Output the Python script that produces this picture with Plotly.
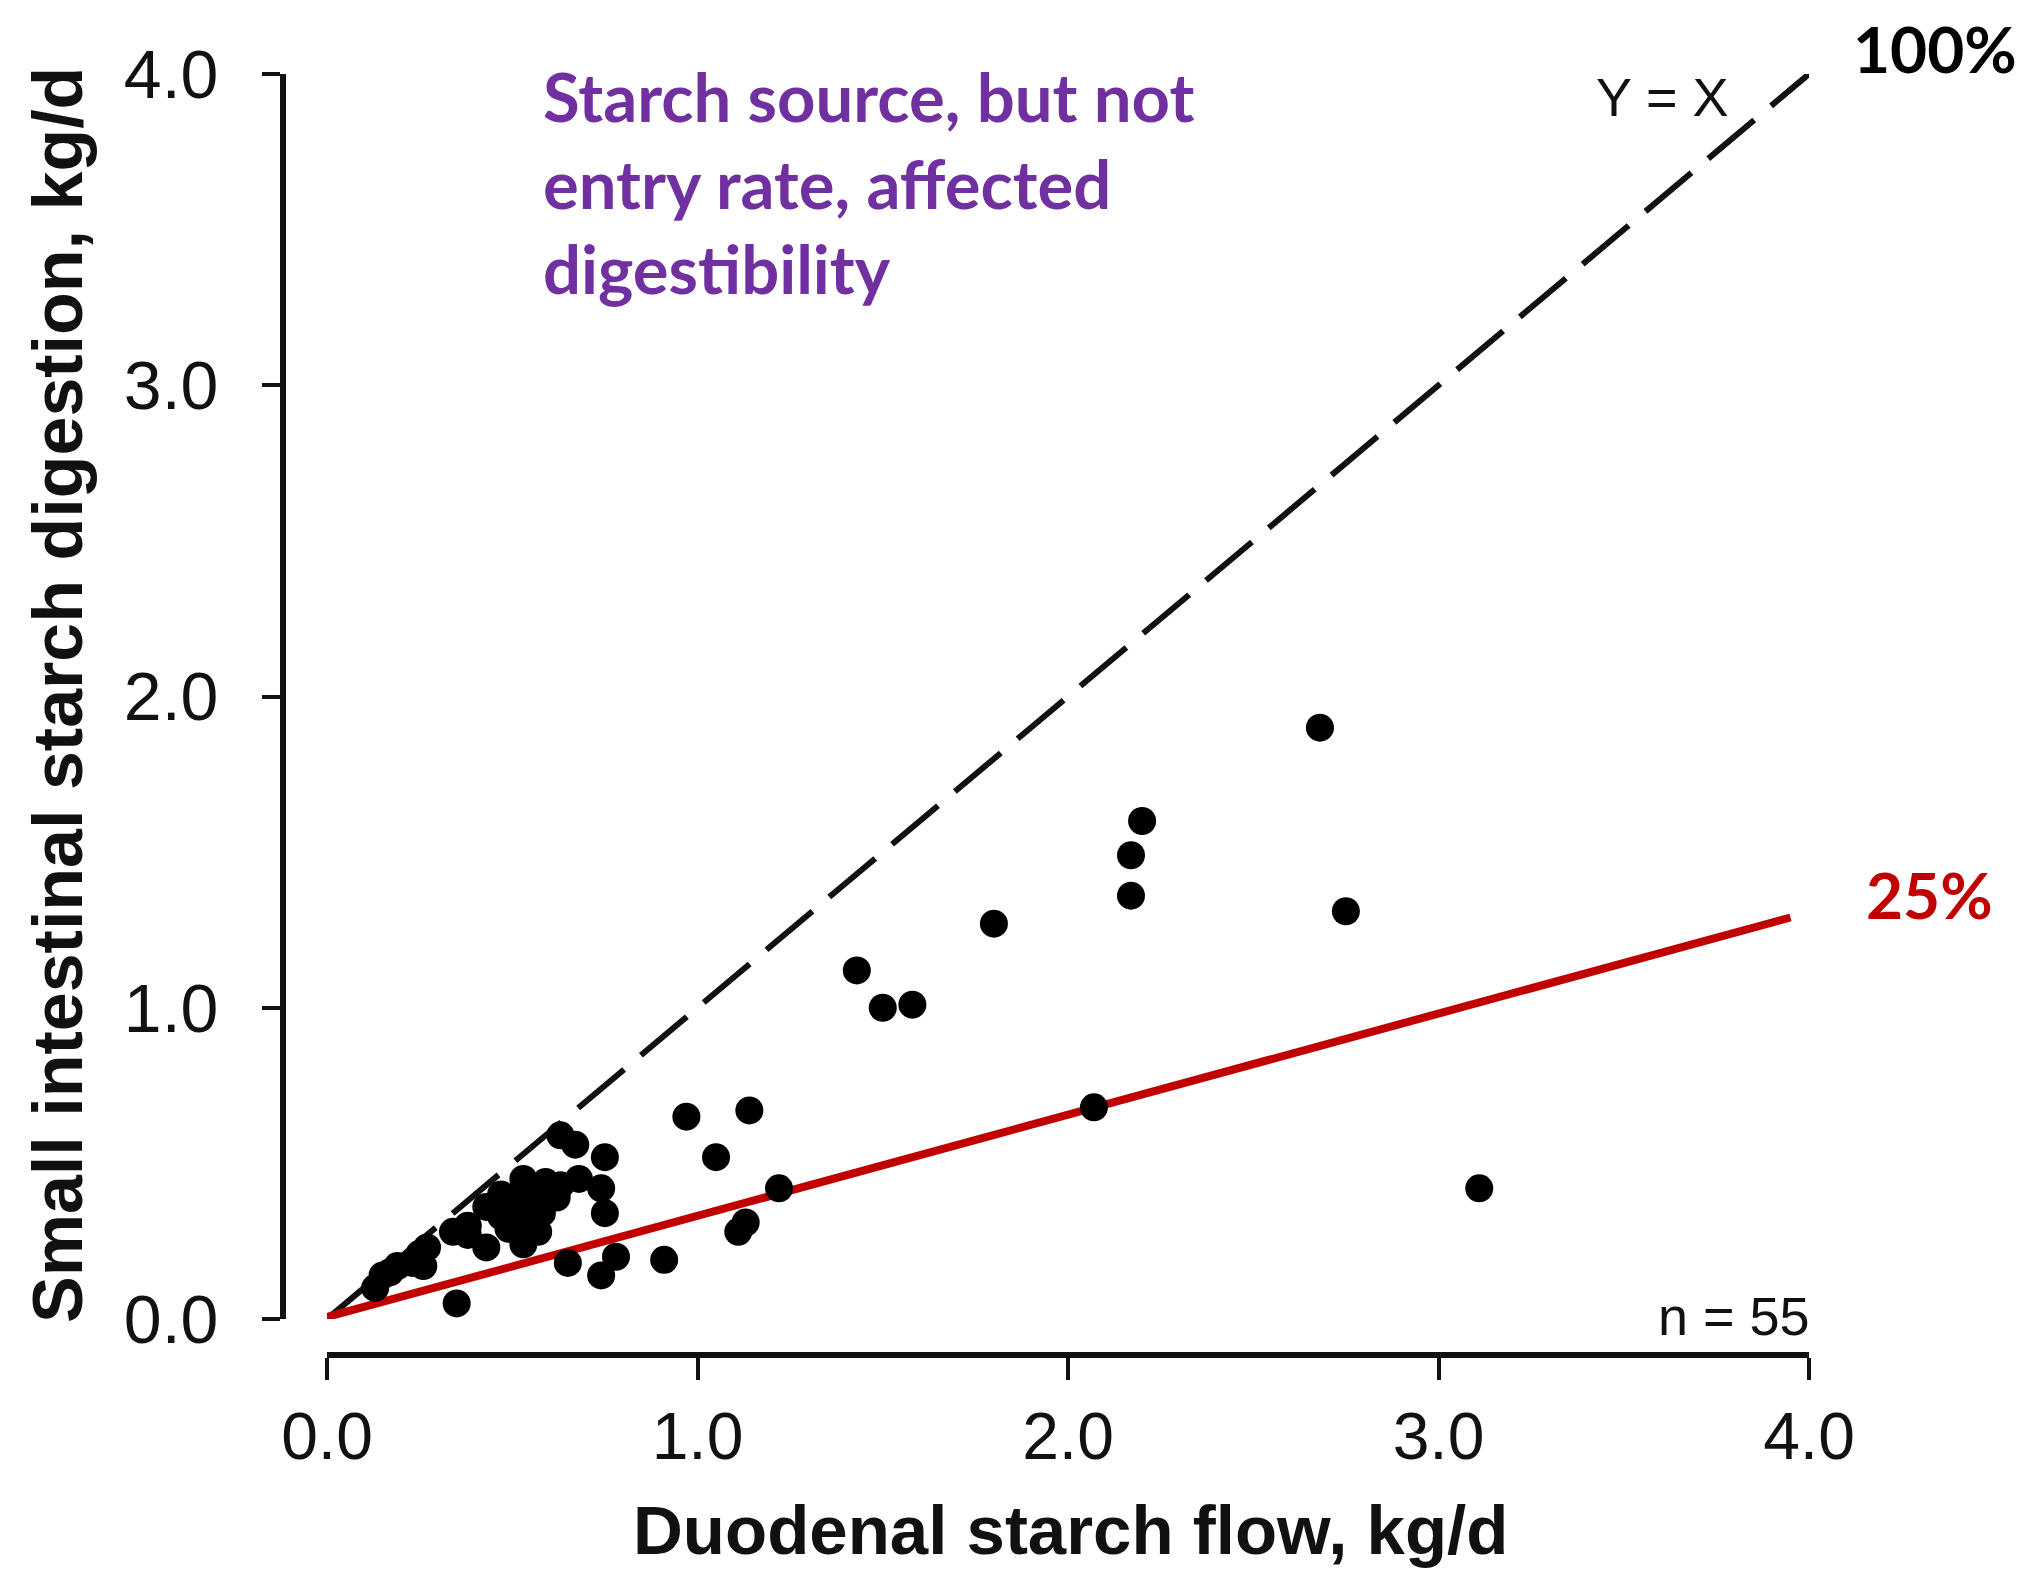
import plotly.graph_objects as go

# ---- data ----
duodenal_flow = [2.68, 2.20, 2.17, 2.17, 2.75, 1.80, 1.43, 1.50, 1.58, 2.07, 3.11,
                 0.97, 1.14, 1.05, 1.22, 1.13, 1.11, 0.91,
                 0.63, 0.67, 0.75, 0.68, 0.74, 0.75, 0.65, 0.78, 0.74,
                 0.53, 0.59, 0.62, 0.58, 0.52, 0.47, 0.47, 0.55, 0.53, 0.57, 0.43, 0.43,
                 0.50, 0.57, 0.49, 0.63,
                 0.35, 0.34, 0.38, 0.25, 0.23, 0.19, 0.15, 0.13, 0.26, 0.27, 0.17, 0.38]
si_digestion = [1.90, 1.60, 1.49, 1.36, 1.31, 1.27, 1.12, 1.00, 1.01, 0.68, 0.42,
                0.65, 0.67, 0.52, 0.42, 0.31, 0.28, 0.19,
                0.59, 0.56, 0.52, 0.45, 0.42, 0.34, 0.18, 0.20, 0.14,
                0.45, 0.44, 0.39, 0.34, 0.38, 0.40, 0.33, 0.31, 0.24, 0.28, 0.23, 0.36,
                0.33, 0.38, 0.29, 0.43,
                0.05, 0.28, 0.30, 0.21, 0.18, 0.17, 0.14, 0.10, 0.17, 0.23, 0.15, 0.27]

identity_x = [0.0, 4.0]
identity_y = [0.0, 4.0]
line25_x = [-0.02, 3.95]
line25_y = [0.0, 1.29]

tick_vals = [0, 1, 2, 3, 4]
tick_text = ["0.0", "1.0", "2.0", "3.0", "4.0"]

# page has an 8px body margin, so the figure is drawn 8px in from the corner
OFF = 8
W, H = 2032 - OFF, 1572 - OFF


def fx(px):
    return (px - OFF) / W


def fy(py):
    return 1 - (py - OFF) / H


AX_FONT = "Liberation Sans, Arial, Helvetica, sans-serif"
NOTE_FONT = "Lato, Carlito, Calibri, sans-serif"

fig = go.Figure()

fig.add_trace(go.Scatter(x=identity_x, y=identity_y, mode="lines",
                         line=dict(color="#111111", width=6, dash="60px,22px"),
                         hoverinfo="skip", showlegend=False))
fig.add_trace(go.Scatter(x=line25_x, y=line25_y, mode="lines",
                         line=dict(color="#C00000", width=8),
                         hoverinfo="skip", showlegend=False))
fig.add_trace(go.Scatter(x=duodenal_flow, y=si_digestion, mode="markers",
                         marker=dict(color="#000000", size=28, line=dict(width=0)),
                         cliponaxis=False, showlegend=False))

x_dom = [fx(327), fx(1809)]
y_dom = [fy(1319), fy(74)]

fig.update_layout(
    width=W, height=H,
    margin=dict(l=0, r=0, t=0, b=0, autoexpand=False),
    paper_bgcolor="white", plot_bgcolor="white",
    showlegend=False,
    xaxis=dict(domain=x_dom, range=[0, 4], anchor="free", position=fy(1355),
               automargin=False,
               showline=True, linewidth=6, linecolor="#111111",
               ticks="outside", ticklen=22, tickwidth=4, tickcolor="#111111",
               tickvals=tick_vals, ticktext=tick_text,
               tickfont=dict(family=AX_FONT, size=66, color="#111111"),
               ticklabelstandoff=0,
               showgrid=False, zeroline=False),
    yaxis=dict(domain=y_dom, range=[0, 4], anchor="free", position=fx(283),
               automargin=False,
               showline=True, linewidth=6, linecolor="#111111",
               ticks="outside", ticklen=18, tickwidth=4, tickcolor="#111111",
               tickvals=tick_vals, ticktext=tick_text,
               tickfont=dict(family=AX_FONT, size=68, color="#111111"),
               ticklabelstandoff=30,
               showgrid=False, zeroline=False),
)

ann = []
# axis titles
ann.append(dict(text="<b>Duodenal starch flow, kg/d</b>", xref="paper", yref="paper",
                x=fx(1070), y=fy(1530), xanchor="center", yanchor="middle",
                showarrow=False, font=dict(family=AX_FONT, size=69, color="#111111")))
ann.append(dict(text="<b>Small intestinal starch digestion, kg/d</b>", xref="paper", yref="paper",
                x=fx(58), y=fy(695), xanchor="center", yanchor="middle", textangle=-90,
                showarrow=False, font=dict(family=AX_FONT, size=70, color="#111111")))
# in-plot labels
ann.append(dict(text="Y = X", xref="paper", yref="paper",
                x=fx(1662), y=fy(97), xanchor="center", yanchor="middle",
                showarrow=False, font=dict(family=AX_FONT, size=54, color="#111111")))
ann.append(dict(text="n = 55", xref="paper", yref="paper",
                x=fx(1812), y=fy(1316), xanchor="right", yanchor="middle",
                showarrow=False, font=dict(family=AX_FONT, size=54, color="#111111")))
# overlay notes
note_lines = ["Starch source, but not", "entry rate, affected", "digestibility"]
note_y = [96, 183, 268]
for t, yy in zip(note_lines, note_y):
    ann.append(dict(text="<b>%s</b>" % t, xref="paper", yref="paper",
                    x=fx(541), y=fy(yy), xanchor="left", yanchor="middle",
                    showarrow=False, font=dict(family=NOTE_FONT, size=67, color="#7030A0")))
ann.append(dict(text="<b>100%</b>", xref="paper", yref="paper",
                x=fx(2019), y=1.0, xanchor="right", yanchor="top",
                showarrow=False, font=dict(family=NOTE_FONT, size=64, color="#000000")))
ann.append(dict(text="<b>25%</b>", xref="paper", yref="paper",
                x=fx(1864), y=fy(894), xanchor="left", yanchor="middle",
                showarrow=False, font=dict(family=NOTE_FONT, size=64, color="#C00000")))

fig.update_layout(annotations=ann)

fig.write_html("out.html")
